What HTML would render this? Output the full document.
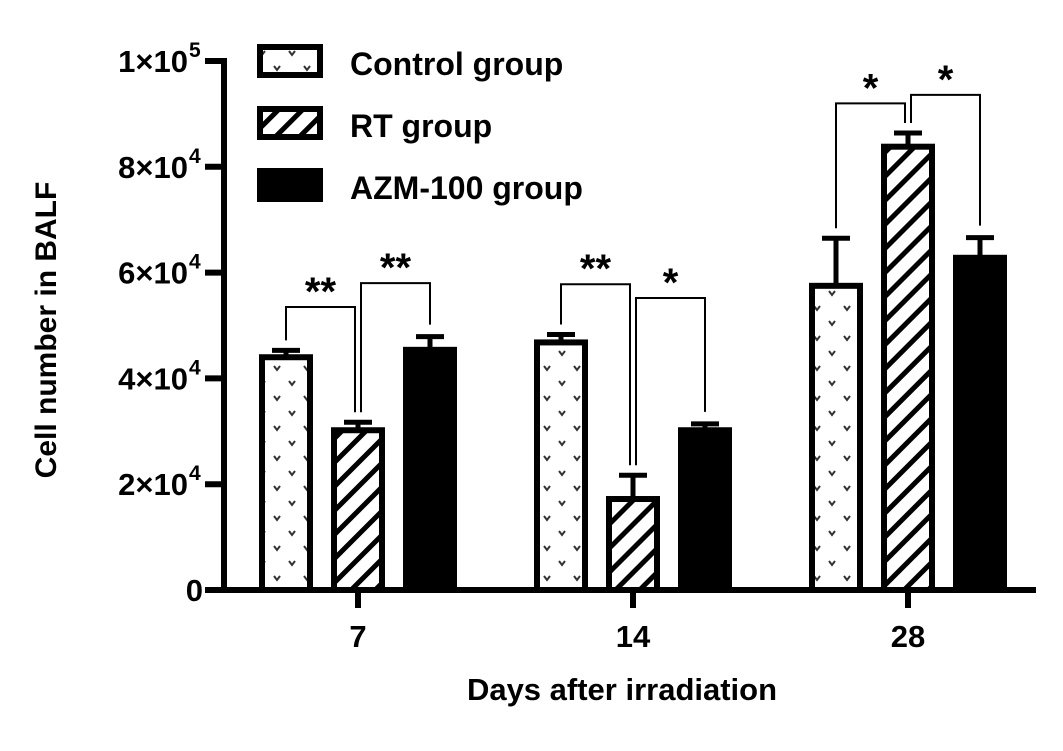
<!DOCTYPE html>
<html><head><meta charset="utf-8"><style>
html,body{margin:0;padding:0;background:#fff;}
svg{display:block;font-family:"Liberation Sans",Arial,sans-serif;font-weight:bold;}
</style></head><body>
<svg id="chart" width="1063" height="751" viewBox="0 0 1063 751">
<defs>
<pattern id="vpat" width="30" height="30" patternUnits="userSpaceOnUse">
<rect width="30" height="30" fill="#fff"/>
<path d="M4,6 L7,10 L10,6 M19,21 L22,25 L25,21" stroke="#333" stroke-width="2" fill="none"/>
</pattern>
<pattern id="hpat" width="17" height="17" patternUnits="userSpaceOnUse" patternTransform="rotate(45)">
<rect width="17" height="17" fill="#fff"/>
<rect x="0" y="0" width="5" height="17" fill="#000"/>
</pattern>
</defs>
<g id="plot"></g>
</svg>
<script>
const categories = ["7","14","28"];
const seriesNames = ["Control group","RT group","AZM-100 group"];
const controlVals = [44000, 46800, 57500];
const controlErr = [1300, 1500, 9000];
const rtVals = [30200, 17200, 83800];
const rtErr = [1500, 4500, 2600];
const azmVals = [45400, 30200, 62800];
const azmErr = [2500, 1200, 3800];
const yTicks = [0, 20000, 40000, 60000, 80000, 100000];
const yTickLabels = ["0","2×10|4","4×10|4","6×10|4","8×10|4","1×10|5"];
const sigLabels = [["**","**"],["**","*"],["*","*"]];
const bracketLeft = [53500, 57800, 92000];
const bracketRight = [58000, 55200, 93600];

const NS="http://www.w3.org/2000/svg";
const g=document.getElementById('plot');
function el(t,a,p){const e=document.createElementNS(NS,t);for(const k in a)e.setAttribute(k,a[k]);(p||g).appendChild(e);return e;}
const x0=224, y0=590, yTop=61;
function y(v){return y0-(v/100000)*(y0-yTop);}
function xc(i){return 358+i*275;}
const off=[-72,0,72], bw=54;

let e=el('line',{x1:x0,y1:yTop-3,x2:x0,y2:y0+3,stroke:'#000','stroke-width':6});


e=el('line',{x1:x0-3,y1:y0,x2:1036,y2:y0,stroke:'#000','stroke-width':6});



yTicks.forEach((v,i)=>{
  const t=el('line',{x1:x0-19,y1:y(v),x2:x0,y2:y(v),stroke:'#000','stroke-width':6});
  
  
  const parts=yTickLabels[i].split('|');
  const tx=el('text',{x:parts.length>1?188:203,y:y(v)+11,'text-anchor':'end','font-size':31});
  
  
  tx.textContent=parts[0];
  if(parts.length>1){
    const s=el('text',{x:189,y:y(v)-4,'font-size':21});
    
    
    s.textContent=parts[1];
  }
});

categories.forEach((c,i)=>{
  const t=el('line',{x1:xc(i),y1:y0,x2:xc(i),y2:y0+18,stroke:'#000','stroke-width':6});
  
  
  const tx=el('text',{x:xc(i),y:647,'text-anchor':'middle','font-size':31});
  
  
  tx.textContent=c;
});

let tt=el('text',{x:622,y:700,'text-anchor':'middle','font-size':31});


tt.textContent='Days after irradiation';
tt=el('text',{x:0,y:0,'text-anchor':'middle','font-size':30,transform:'translate(56,330) rotate(-90)'});


tt.textContent='Cell number in BALF';

const series=[[controlVals,controlErr,'url(#vpat)','control'],[rtVals,rtErr,'url(#hpat)','rt'],[azmVals,azmErr,'#000','azm']];
const capTops=[[],[],[]];
categories.forEach((c,i)=>{
  series.forEach((s,j)=>{
    const v=s[0][i], er=s[1][i], cx=xc(i)+off[j];
    const top=y(v+er);
    capTops[i][j]=top;
    const ln=el('line',{x1:cx,y1:y(v),x2:cx,y2:top,stroke:'#000','stroke-width':5});
    
    
    const cp=el('line',{x1:cx-14,y1:top,x2:cx+14,y2:top,stroke:'#000','stroke-width':5});
    
    
    const b=el('rect',{x:cx-bw/2+3,y:y(v),width:bw-6,height:y0-y(v),fill:s[2],stroke:'#000','stroke-width':6});
    
    
  });
});

categories.forEach((c,i)=>{
  const tops=capTops[i];
  const b1y=y(bracketLeft[i]), b2y=y(bracketRight[i]);
  const xs=[xc(i)+off[0],xc(i)+off[1]-3,xc(i)+off[1]+3,xc(i)+off[2]];
  const p1=el('path',{d:`M${xs[0]},${tops[0]-10} V${b1y} H${xs[1]} V${tops[1]-10}`,fill:'none',stroke:'#000','stroke-width':2});
  
  
  const p2=el('path',{d:`M${xs[2]},${tops[1]-10} V${b2y} H${xs[3]} V${tops[2]-12}`,fill:'none',stroke:'#000','stroke-width':2});
  
  
  const s1=el('text',{x:(xs[0]+xs[1])/2,y:b1y-2,'text-anchor':'middle','font-size':40});
  
  
  s1.textContent=sigLabels[i][0];
  const s2=el('text',{x:(xs[2]+xs[3])/2,y:b2y-2,'text-anchor':'middle','font-size':40});
  
  
  s2.textContent=sigLabels[i][1];
});

const fills=['url(#vpat)','url(#hpat)','#000'];
seriesNames.forEach((n,j)=>{
  const yy=47+j*62;
  const r=el('rect',{x:260,y:yy,width:60,height:28,fill:fills[j],stroke:'#000','stroke-width':6});
  
  
  const t=el('text',{x:350,y:yy+28,'font-size':32});
  
  
  t.textContent=n;
});
</script>
</body></html>
